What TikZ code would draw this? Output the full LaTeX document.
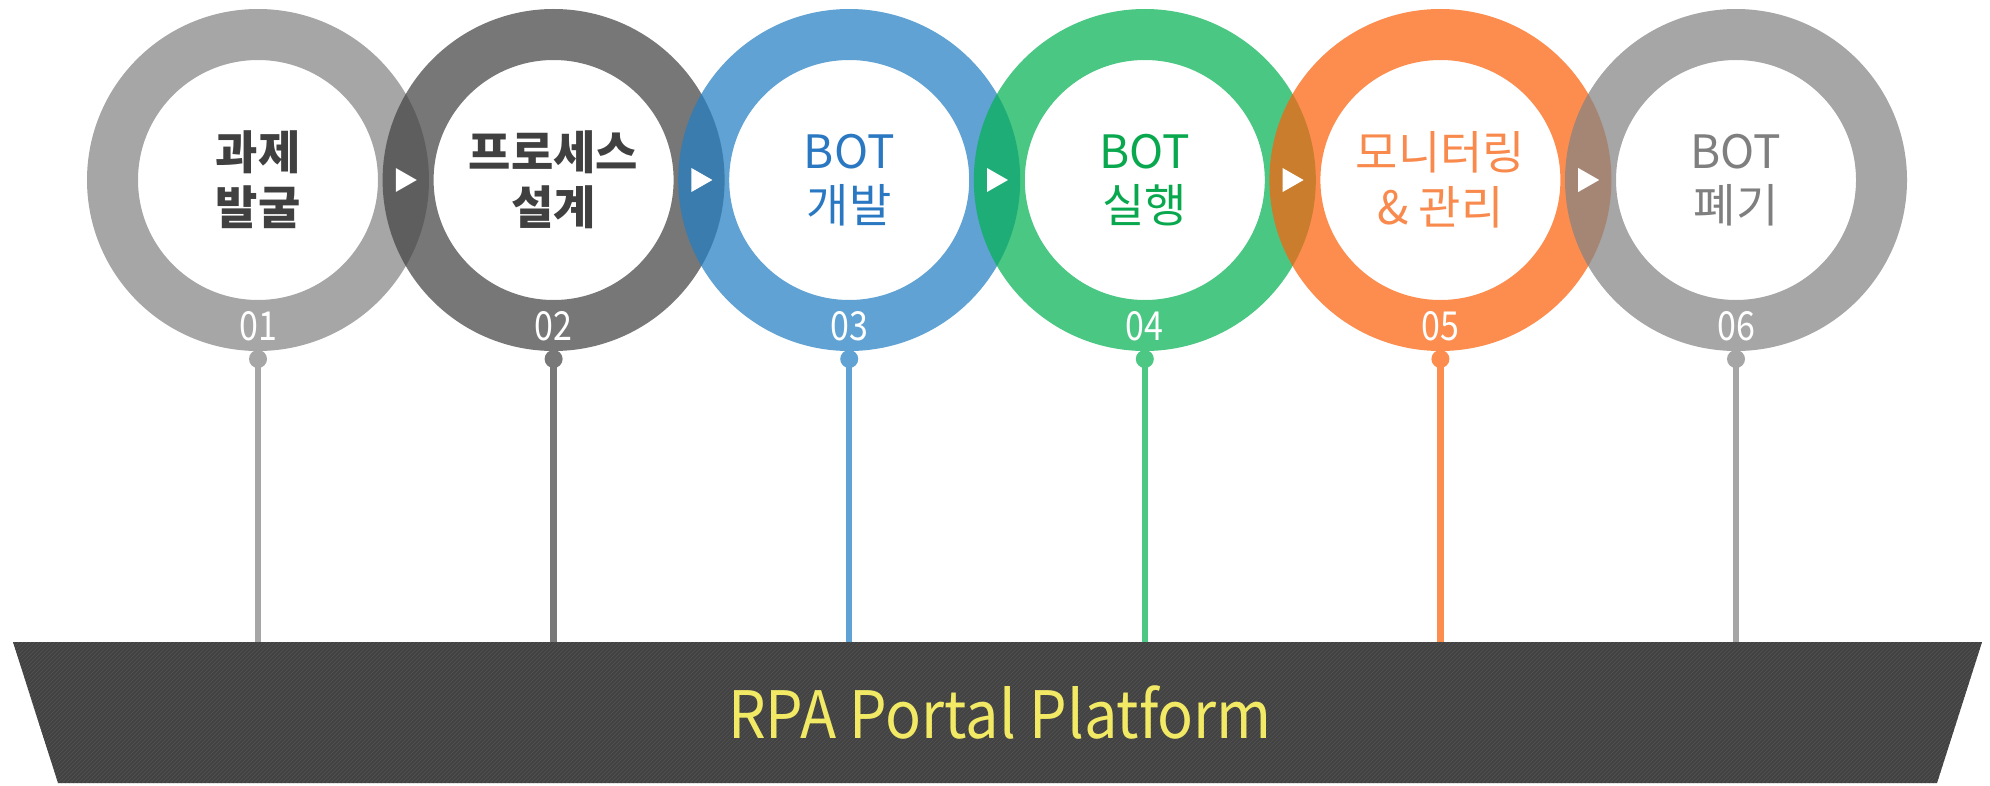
\documentclass[tikz,border=0pt]{standalone}
\usepackage{fontspec}
\setmainfont{Noto Sans CJK KR}
\usepackage{tikz}
\usetikzlibrary{patterns}

\definecolor{ringA}{RGB}{131,131,131}
\definecolor{ringB}{RGB}{67,67,67}
\definecolor{ringC}{RGB}{33,126,194}
\definecolor{ringD}{RGB}{6,177,84}
\definecolor{ringE}{RGB}{251,97,11}
\definecolor{ringF}{RGB}{131,131,131}
\definecolor{pinA}{RGB}{166,166,166}
\definecolor{pinB}{RGB}{120,120,120}
\definecolor{pinC}{RGB}{95,162,211}
\definecolor{pinD}{RGB}{76,199,132}
\definecolor{pinE}{RGB}{252,141,79}
\definecolor{pinF}{RGB}{166,166,166}
\definecolor{txtdark}{RGB}{64,64,64}
\definecolor{txtblue}{RGB}{42,120,194}
\definecolor{txtgreen}{RGB}{10,168,78}
\definecolor{txtorange}{RGB}{249,138,78}
\definecolor{txtgray}{RGB}{127,127,127}
\definecolor{platgray}{RGB}{66,66,66}
\definecolor{platline}{RGB}{84,84,84}
\definecolor{platyellow}{RGB}{242,233,100}

\tikzset{
  ring/.style={circle, draw=#1, draw opacity=0.72, line width=38.25pt,
    minimum size=218.25pt, inner sep=0pt, align=center,
    font=\fontsize{34.5}{41}\selectfont},
  stepno/.style={text=white, inner sep=0pt, xscale=0.85, font=\fontsize{30}{30}\selectfont},
  pindot/.style={circle, fill=#1, minimum size=13.5pt, inner sep=0pt},
  pinline/.style={draw=#1, line width=4.8pt},
  nextarrow/.style={fill=white}
}

\begin{document}
\begin{tikzpicture}[x=0.75pt,y=0.75pt,yscale=-1,xscale=1]
\useasboundingbox (0,0) rectangle (1990,785);

%Shape: Platform
\fill[platgray] (13,642) -- (1982,642) -- (1937,783) -- (58,783) -- cycle;
\fill[pattern=north east lines, pattern color=platline] (13,642) -- (1982,642) -- (1937,783) -- (58,783) -- cycle;
\coordinate (base1) at (258,642);
\coordinate (base2) at (553.6,642);
\coordinate (base3) at (849.2,642);
\coordinate (base4) at (1144.8,642);
\coordinate (base5) at (1440.4,642);
\coordinate (base6) at (1736,642);

% Text Node
\node[text=platyellow, anchor=base, xscale=0.91, font=\fontsize{49}{49}\selectfont] (platform) at (1000,738) {RPA Portal Platform};

%Shape: Rings
\node[ring=ringA, text=txtdark, font=\fontsize{34.5}{41}\selectfont\bfseries] (step1) at (258,180) {과제\\발굴};
\node[ring=ringB, text=txtdark, font=\fontsize{34.5}{41}\selectfont\bfseries] (step2) at (553.6,180) {프로세스\\설계};
\node[ring=ringC, text=txtblue] (step3) at (849.2,180) {BOT\\개발};
\node[ring=ringD, text=txtgreen] (step4) at (1144.8,180) {BOT\\실행};
\node[ring=ringE, text=txtorange] (step5) at (1440.4,180) {모니터링\\\& 관리};
\node[ring=ringF, text=txtgray] (step6) at (1736,180) {BOT\\폐기};

% Step numbers
\node[stepno] (no1) at (258,326) {01};
\node[stepno] (no2) at (553.6,326) {02};
\node[stepno] (no3) at (849.2,326) {03};
\node[stepno] (no4) at (1144.8,326) {04};
\node[stepno] (no5) at (1440.4,326) {05};
\node[stepno] (no6) at (1736,326) {06};

%Straight Lines: pins
\node[pindot=pinA] (dot1) at (258,359) {};
\node[pindot=pinB] (dot2) at (553.6,359) {};
\node[pindot=pinC] (dot3) at (849.2,359) {};
\node[pindot=pinD] (dot4) at (1144.8,359) {};
\node[pindot=pinE] (dot5) at (1440.4,359) {};
\node[pindot=pinF] (dot6) at (1736,359) {};
\draw[pinline=pinA] (dot1.center) -- (base1);
\draw[pinline=pinB] (dot2.center) -- (base2);
\draw[pinline=pinC] (dot3.center) -- (base3);
\draw[pinline=pinD] (dot4.center) -- (base4);
\draw[pinline=pinE] (dot5.center) -- (base5);
\draw[pinline=pinF] (dot6.center) -- (base6);

%Shape: Triangles
\fill[nextarrow] (395.8,168) -- (416.8,180) -- (395.8,192) -- cycle;
\fill[nextarrow] (691.4,168) -- (712.4,180) -- (691.4,192) -- cycle;
\fill[nextarrow] (987,168) -- (1008,180) -- (987,192) -- cycle;
\fill[nextarrow] (1282.6,168) -- (1303.6,180) -- (1282.6,192) -- cycle;
\fill[nextarrow] (1578.2,168) -- (1599.2,180) -- (1578.2,192) -- cycle;

\end{tikzpicture}
\end{document}
